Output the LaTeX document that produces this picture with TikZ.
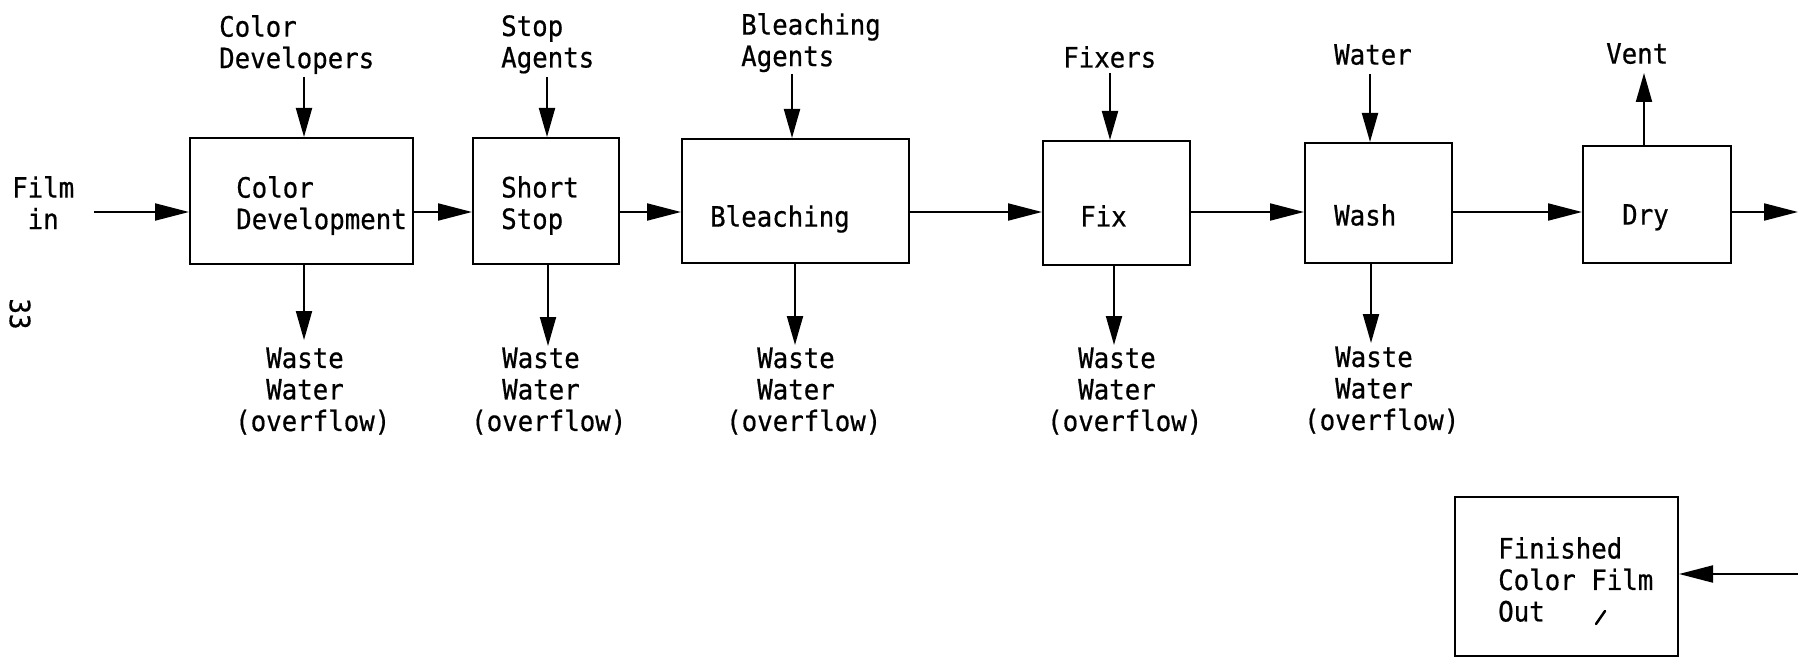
\documentclass[tikz,border=0pt]{standalone}
\usepackage{fontspec}
\newfontfamily\typed[FakeStretch=0.92,FakeBold=0.6]{DejaVu Sans Mono}
\usetikzlibrary{arrows.meta}

\begin{document}
\begin{tikzpicture}[x=1pt,y=-1pt,
  box/.style={draw, rectangle, line width=2pt, inner sep=0pt},
  lbl/.style={anchor=north west, inner sep=0pt, align=left,
              font=\typed\fontsize{28}{31.5}\selectfont},
  flow/.style={line width=2pt, -{Triangle[length=34pt,width=17pt]}},
  feed/.style={line width=2pt, -{Triangle[length=29pt,width=16pt]}},
]
\useasboundingbox (0,0) rectangle (1798,658);

% process stages
\node[box, minimum width=223pt, minimum height=126pt] (cd) at (301.5,201) {};
\node[box, minimum width=146pt, minimum height=126pt] (ss) at (546,201) {};
\node[box, minimum width=227pt, minimum height=124pt] (bl) at (795.5,201) {};
\node[box, minimum width=147pt, minimum height=124pt] (fx) at (1116.5,203) {};
\node[box, minimum width=147pt, minimum height=120pt] (wa) at (1378.5,203) {};
\node[box, minimum width=148pt, minimum height=117pt] (dr) at (1657,204.5) {};
\node[box, minimum width=223pt, minimum height=159pt] (fin) at (1566.5,576.5) {};

% texts inside the stages
\node[lbl] (cdtxt) at (236,176) {Color\\Development};
\node[lbl] (sstxt) at (501,176) {Short\\Stop};
\node[lbl] (bltxt) at (710,205) {Bleaching};
\node[lbl] (fxtxt) at (1080,205) {Fix};
\node[lbl] (watxt) at (1334,204) {Wash};
\node[lbl] (drtxt) at (1622,204) {Dry};
\node[lbl] (fintxt) at (1498,537) {Finished\\Color Film\\Out};

% film path
\node[lbl] (filmin) at (12,176) {Film\\\phantom{0}in};
\coordinate (row) at (0,212);
\coordinate (filmsrc) at (94,212);
\coordinate (outend) at (1798,212);
\draw[flow] (filmsrc) -- (cd.west |- row);
\draw[flow] (cd.east |- row) -- (ss.west |- row);
\draw[flow] (ss.east |- row) -- (bl.west |- row);
\draw[flow] (bl.east |- row) -- (fx.west |- row);
\draw[flow] (fx.east |- row) -- (wa.west |- row);
\draw[flow] (wa.east |- row) -- (dr.west |- row);
\draw[flow] (dr.east |- row) -- (outend);
\coordinate (retsrc) at (1798,574);
\draw[flow] (retsrc) -- (fin.east |- retsrc);

% chemical feeds
\node[lbl] (cdfeed) at (219,15) {Color\\Developers};
\node[lbl] (ssfeed) at (501,15) {Stop\\Agents};
\node[lbl] (blfeed) at (741,13) {Bleaching\\Agents};
\node[lbl] (fxfeed) at (1063,46) {Fixers};
\node[lbl] (wafeed) at (1334,44) {Water};
\node[lbl] (drvent) at (1606,43) {Vent};
\coordinate (cdin) at (304,77);
\coordinate (ssin) at (547,77);
\coordinate (blin) at (792,74);
\coordinate (fxin) at (1110,73);
\coordinate (wain) at (1370,74);
\coordinate (vent) at (1644,73);
\draw[feed] (cdin) -- (cdin |- cd.north);
\draw[feed] (ssin) -- (ssin |- ss.north);
\draw[feed] (blin) -- (blin |- bl.north);
\draw[feed] (fxin) -- (fxin |- fx.north);
\draw[feed] (wain) -- (wain |- wa.north);
\draw[feed] (vent |- dr.north) -- (vent);

% overflow to waste water
\coordinate (cdout) at (304,340);
\coordinate (ssout) at (548,346);
\coordinate (blout) at (795,345);
\coordinate (fxout) at (1114,345);
\coordinate (waout) at (1371,343);
\draw[feed] (cdout |- cd.south) -- (cdout);
\draw[feed] (ssout |- ss.south) -- (ssout);
\draw[feed] (blout |- bl.south) -- (blout);
\draw[feed] (fxout |- fx.south) -- (fxout);
\draw[feed] (waout |- wa.south) -- (waout);
\node[lbl] (cdwaste) at (235,347) {\phantom{00}Waste\\\phantom{00}Water\\(overflow)};
\node[lbl] (sswaste) at (471,347) {\phantom{00}Waste\\\phantom{00}Water\\(overflow)};
\node[lbl] (blwaste) at (726,347) {\phantom{00}Waste\\\phantom{00}Water\\(overflow)};
\node[lbl] (fxwaste) at (1047,347) {\phantom{00}Waste\\\phantom{00}Water\\(overflow)};
\node[lbl] (wawaste) at (1304,346) {\phantom{00}Waste\\\phantom{00}Water\\(overflow)};

% page number, typed sideways
\node[lbl, anchor=center, rotate=-90] (pageno) at (20,314) {33};

% pen stroke inside the last box
\draw[line width=2.5pt, line cap=round] (1596,624) -- (1605,611);
\end{tikzpicture}
\end{document}
